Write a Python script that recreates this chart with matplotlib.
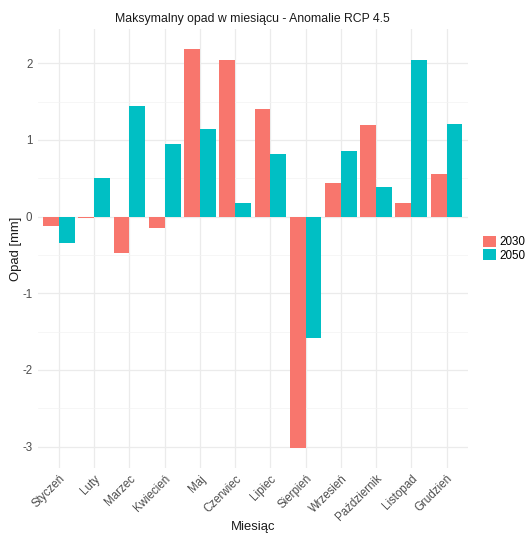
import matplotlib
matplotlib.use("Agg")
import matplotlib.pyplot as plt
import numpy as np

plt.rcParams['font.family'] = ['Liberation Sans', 'DejaVu Sans']

months = ["Styczeń", "Luty", "Marzec", "Kwiecień", "Maj", "Czerwiec",
          "Lipiec", "Sierpień", "Wrzesień", "Październik", "Listopad", "Grudzień"]
anom_2030 = [-0.12, -0.015, -0.48, -0.15, 2.18, 2.04, 1.40, -3.02, 0.44, 1.20, 0.18, 0.56]
anom_2050 = [-0.35, 0.50, 1.44, 0.94, 1.14, 0.17, 0.82, -1.59, 0.86, 0.39, 2.04, 1.21]
series_labels = ["2030", "2050"]
colors = ["#F8766D", "#00BFC4"]

fig = plt.figure(figsize=(5.29, 5.35), dpi=100)
ax = fig.add_axes([0.0716, 0.1252, 0.8125, 0.8198])

x = np.arange(len(months))
w = 0.45
for i, (vals, lab, col) in enumerate(zip([anom_2030, anom_2050], series_labels, colors)):
    ax.bar(x + (i - 0.5) * w, vals, width=w, color=col, edgecolor="none",
           label=lab, zorder=3)

ax.set_yticks([-3, -2, -1, 0, 1, 2])
ax.set_yticklabels(["-3", "-2", "-1", "0", "1", "2"])
ax.set_yticks(np.arange(-3.5, 2.6, 0.5), minor=True)
ax.set_xticks(x)
ax.set_xticklabels(months, rotation=45, ha="right", rotation_mode="anchor")

# limits after ticks so the tick setters don't widen the view
allv = anom_2030 + anom_2050
lo, hi = min(allv + [0]), max(allv + [0])
pad = 0.05 * (hi - lo)
ax.set_ylim(lo - pad, hi + pad)
ax.set_xlim(-0.6, len(months) - 0.4)

ax.grid(True, which="major", color="#EBEBEB", linewidth=0.9, zorder=0)
ax.grid(True, which="minor", axis="y", color="#F3F3F3", linewidth=0.5, zorder=0)
ax.set_axisbelow(True)
for s in ax.spines.values():
    s.set_visible(False)
ax.tick_params(axis="both", which="both", length=0, labelsize=8.3, labelcolor="#4D4D4D")
ax.tick_params(axis="y", pad=4)
ax.tick_params(axis="x", pad=3.5)

ax.set_title("Maksymalny opad w miesiącu - Anomalie RCP 4.5", fontsize=8.8, color="#1A1A1A", pad=5)
ax.set_xlabel("Miesiąc", fontsize=9.4, color="#1A1A1A")
ax.xaxis.label.set_va("center")
ax.xaxis.set_label_coords(0.5, (8 - 67) / 438.6)
ax.set_ylabel("Opad [mm]", fontsize=9.4, color="#1A1A1A", labelpad=0.5)

leg = ax.legend(loc="center left", bbox_to_anchor=(1.02, 0.5), frameon=False,
                fontsize=8.4, handlelength=1.05, handleheight=1.1, handletextpad=0.3,
                labelspacing=0.05, borderaxespad=0.2)

fig.savefig("out.png", dpi=100)
